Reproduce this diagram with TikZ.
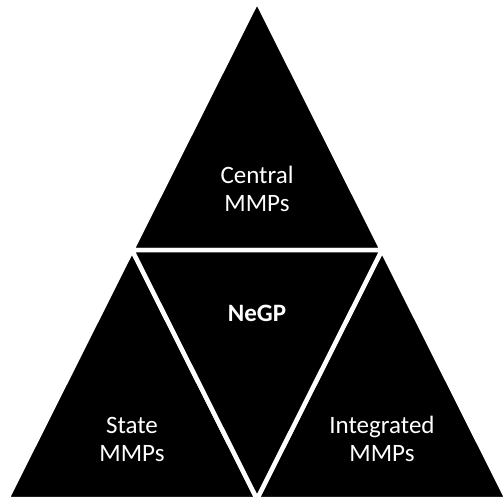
\documentclass[tikz,border=0pt]{standalone}
\usepackage{fontspec}
\setmainfont{Carlito}
\begin{document}
\begin{tikzpicture}[x=1pt,y=-1pt,
  tri/.style={fill=black,draw=white,line width=4.5pt,line join=miter},
  lab/.style={text=white,font=\fontsize{25}{28}\selectfont,align=center,inner sep=0pt}]
\useasboundingbox (0,0) rectangle (503,500);
\coordinate (A) at (257,1);
\coordinate (B) at (7,499);
\coordinate (C) at (507,499);
\path (A) -- (B) coordinate[pos=0.5] (ab);
\path (A) -- (C) coordinate[pos=0.5] (ac);
\path (B) -- (C) coordinate[pos=0.5] (bc);
\draw[tri] (A) -- (ab) -- (ac) -- cycle;
\draw[tri] (ab) -- (B) -- (bc) -- cycle;
\draw[tri] (ac) -- (bc) -- (C) -- cycle;
\draw[tri] (ab) -- (ac) -- (bc) -- cycle;
\node[lab] (central) at (257,189) {Central\\MMPs};
\node[lab,font=\fontsize{25}{28}\selectfont\bfseries] (negp) at (257,313) {NeGP};
\node[lab] (state) at (132,439) {State\\MMPs};
\node[lab] (integ) at (382,439) {Integrated\\MMPs};
\end{tikzpicture}
\end{document}
